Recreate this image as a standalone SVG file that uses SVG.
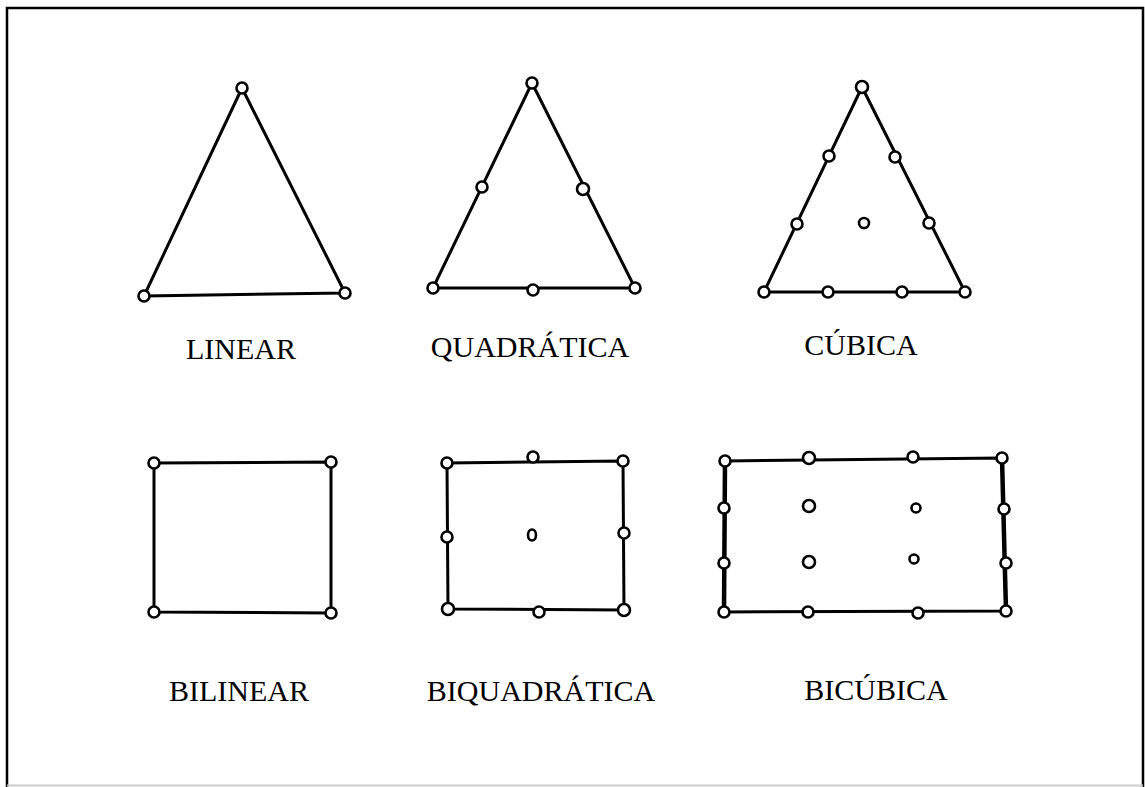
<svg xmlns="http://www.w3.org/2000/svg" width="1145" height="787" viewBox="0 0 1145 787">
<style>
.e{stroke:#000;stroke-width:3;fill:none;stroke-linejoin:round}
.thick{stroke:#000;stroke-width:4.5;fill:none}
.n{fill:#fff;stroke:#000;stroke-width:2.6}
.t{font-family:"Liberation Serif","Times New Roman",serif;font-size:30px;fill:#000;text-anchor:middle}
</style>
<rect x="0" y="0" width="1145" height="787" fill="#fff"/>
<g id="frame">
<path d="M7,787 V8 H1143 V787" fill="none" stroke="#000" stroke-width="2.5"/>
<line x1="7" y1="785.5" x2="1143" y2="785.5" stroke="#ccc" stroke-width="2"/>
</g>
<g id="connectors">
<polygon class="e" points="242,88 144,296 345,293"/>
<polygon class="e" points="532,83 433,288 635,288"/>
<polygon class="e" points="862,87 764,292 965,292"/>
<polygon class="e" points="154,463 331,462 331,613 154,612"/>
<polygon class="e" points="447,463 623,461 624,610 448,609"/>
<polygon class="e" points="725,461 1002,458 1006,611 724,612"/>
<line class="thick" x1="725" y1="461" x2="724" y2="612"/>
<line class="thick" x1="1002" y1="458" x2="1006" y2="611"/>
</g>
<g id="linear">
<circle class="n" cx="242" cy="88" r="5.5"/>
<circle class="n" cx="144" cy="296" r="5.5"/>
<circle class="n" cx="345" cy="293" r="5.5"/>
<text class="t" x="241" y="359">LINEAR</text>
</g>
<g id="quadratica">
<circle class="n" cx="532" cy="83" r="5.5"/>
<circle class="n" cx="482" cy="187" r="5.5"/>
<circle class="n" cx="583" cy="189" r="6"/>
<circle class="n" cx="433" cy="288" r="5.5"/>
<circle class="n" cx="533" cy="290" r="5.5"/>
<circle class="n" cx="635" cy="288" r="5.5"/>
<text class="t" x="530" y="357">QUADRÁTICA</text>
</g>
<g id="cubica">
<circle class="n" cx="862" cy="87" r="6"/>
<circle class="n" cx="829" cy="156" r="5.5"/>
<circle class="n" cx="797" cy="224" r="5.5"/>
<circle class="n" cx="895" cy="157" r="5.5"/>
<circle class="n" cx="929" cy="223" r="5.5"/>
<circle class="n" cx="864" cy="223" r="5"/>
<circle class="n" cx="764" cy="292" r="5.5"/>
<circle class="n" cx="828" cy="292" r="5.5"/>
<circle class="n" cx="902" cy="292" r="5.5"/>
<circle class="n" cx="965" cy="292" r="5.5"/>
<text class="t" x="861" y="355">CÚBICA</text>
</g>
<g id="bilinear">
<circle class="n" cx="154" cy="463" r="5.5"/>
<circle class="n" cx="331" cy="462" r="5.5"/>
<circle class="n" cx="154" cy="612" r="5.5"/>
<circle class="n" cx="331" cy="613" r="5.5"/>
<text class="t" x="239" y="701">BILINEAR</text>
</g>
<g id="biquadratica">
<circle class="n" cx="447" cy="463" r="5.5"/>
<circle class="n" cx="533" cy="457" r="5.5"/>
<circle class="n" cx="623" cy="461" r="5.5"/>
<circle class="n" cx="447" cy="537" r="5.5"/>
<ellipse class="n" cx="532" cy="535" rx="4" ry="5.5"/>
<circle class="n" cx="624" cy="533" r="5.5"/>
<circle class="n" cx="448" cy="609" r="6"/>
<circle class="n" cx="539" cy="612" r="5.5"/>
<circle class="n" cx="624" cy="610" r="6"/>
<text class="t" x="541" y="701">BIQUADRÁTICA</text>
</g>
<g id="bicubica">
<circle class="n" cx="725" cy="461" r="5.5"/>
<circle class="n" cx="809" cy="458" r="6"/>
<circle class="n" cx="913" cy="457" r="5.5"/>
<circle class="n" cx="1002" cy="458" r="5.5"/>
<circle class="n" cx="724" cy="508" r="5.5"/>
<circle class="n" cx="809" cy="506" r="6"/>
<circle class="n" cx="916" cy="508" r="4.5"/>
<circle class="n" cx="1004" cy="509" r="5.5"/>
<circle class="n" cx="724" cy="563" r="5.5"/>
<circle class="n" cx="809" cy="562" r="6"/>
<circle class="n" cx="914" cy="559" r="4.5"/>
<circle class="n" cx="1006" cy="563" r="5.5"/>
<circle class="n" cx="724" cy="612" r="5.5"/>
<circle class="n" cx="808" cy="612" r="5.5"/>
<circle class="n" cx="918" cy="613" r="5.5"/>
<circle class="n" cx="1006" cy="611" r="5.5"/>
<text class="t" x="876" y="700">BICÚBICA</text>
</g>
</svg>
